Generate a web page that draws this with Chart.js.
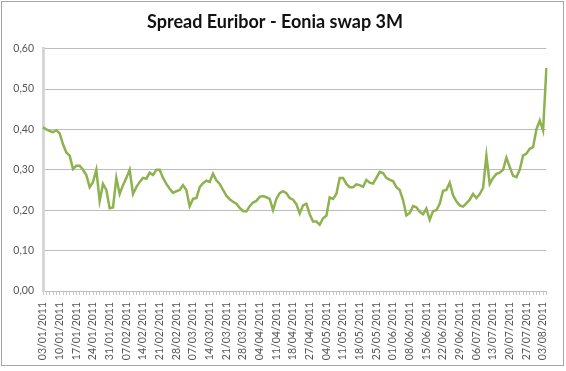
<!DOCTYPE html>
<html>
<head>
<meta charset="utf-8">
<script src="https://cdn.jsdelivr.net/npm/chart.js@4.4.1/dist/chart.umd.min.js"></script>
<style>
  html, body { margin: 0; padding: 0; background: #fff; }
  #wrap { position: relative; width: 566px; height: 371px; }
  #frame { position: absolute; left: 1px; top: 1px; width: 563px; height: 365px;
           border: 1px solid #a6a6a6; box-sizing: border-box; pointer-events: none; }
  canvas { display: block; }
</style>
</head>
<body>
<div id="wrap">
  <canvas id="myChart" width="566" height="371"></canvas>
  <div id="frame"></div>
</div>
<script>
// business days, TARGET calendar
const dates = [
  '03/01/2011','04/01/2011','05/01/2011','06/01/2011','07/01/2011',
  '10/01/2011','11/01/2011','12/01/2011','13/01/2011','14/01/2011',
  '17/01/2011','18/01/2011','19/01/2011','20/01/2011','21/01/2011',
  '24/01/2011','25/01/2011','26/01/2011','27/01/2011','28/01/2011',
  '31/01/2011','01/02/2011','02/02/2011','03/02/2011','04/02/2011',
  '07/02/2011','08/02/2011','09/02/2011','10/02/2011','11/02/2011',
  '14/02/2011','15/02/2011','16/02/2011','17/02/2011','18/02/2011',
  '21/02/2011','22/02/2011','23/02/2011','24/02/2011','25/02/2011',
  '28/02/2011','01/03/2011','02/03/2011','03/03/2011','04/03/2011',
  '07/03/2011','08/03/2011','09/03/2011','10/03/2011','11/03/2011',
  '14/03/2011','15/03/2011','16/03/2011','17/03/2011','18/03/2011',
  '21/03/2011','22/03/2011','23/03/2011','24/03/2011','25/03/2011',
  '28/03/2011','29/03/2011','30/03/2011','31/03/2011','01/04/2011',
  '04/04/2011','05/04/2011','06/04/2011','07/04/2011','08/04/2011',
  '11/04/2011','12/04/2011','13/04/2011','14/04/2011','15/04/2011',
  '18/04/2011','19/04/2011','20/04/2011','21/04/2011','26/04/2011',
  '27/04/2011','28/04/2011','29/04/2011','02/05/2011','03/05/2011',
  '04/05/2011','05/05/2011','06/05/2011','09/05/2011','10/05/2011',
  '11/05/2011','12/05/2011','13/05/2011','16/05/2011','17/05/2011',
  '18/05/2011','19/05/2011','20/05/2011','23/05/2011','24/05/2011',
  '25/05/2011','26/05/2011','27/05/2011','30/05/2011','31/05/2011',
  '01/06/2011','02/06/2011','03/06/2011','06/06/2011','07/06/2011',
  '08/06/2011','09/06/2011','10/06/2011','13/06/2011','14/06/2011',
  '15/06/2011','16/06/2011','17/06/2011','20/06/2011','21/06/2011',
  '22/06/2011','23/06/2011','24/06/2011','27/06/2011','28/06/2011',
  '29/06/2011','30/06/2011','01/07/2011','04/07/2011','05/07/2011',
  '06/07/2011','07/07/2011','08/07/2011','11/07/2011','12/07/2011',
  '13/07/2011','14/07/2011','15/07/2011','18/07/2011','19/07/2011',
  '20/07/2011','21/07/2011','22/07/2011','25/07/2011','26/07/2011',
  '27/07/2011','28/07/2011','29/07/2011','01/08/2011','02/08/2011',
  '03/08/2011','04/08/2011'
];

const spread = [
  0.405, 0.400, 0.396, 0.393, 0.398,
  0.390, 0.363, 0.343, 0.335, 0.302,
  0.310, 0.310, 0.300, 0.287, 0.257,
  0.270, 0.300, 0.223, 0.265, 0.250,
  0.205, 0.207, 0.280, 0.240, 0.262,
  0.280, 0.300, 0.240, 0.257, 0.270,
  0.280, 0.278, 0.293, 0.287, 0.300,
  0.300, 0.280, 0.265, 0.253, 0.243,
  0.247, 0.250, 0.262, 0.250, 0.210,
  0.228, 0.230, 0.257, 0.267, 0.273,
  0.270, 0.290, 0.274, 0.265, 0.250,
  0.236, 0.227, 0.221, 0.216, 0.206,
  0.198, 0.197, 0.210, 0.219, 0.223,
  0.233, 0.235, 0.232, 0.228, 0.200,
  0.228, 0.242, 0.247, 0.242, 0.230,
  0.226, 0.215, 0.192, 0.212, 0.216,
  0.190, 0.172, 0.172, 0.164, 0.180,
  0.186, 0.232, 0.228, 0.240, 0.280,
  0.280, 0.265, 0.257, 0.257, 0.264,
  0.262, 0.258, 0.275, 0.268, 0.266,
  0.280, 0.295, 0.292, 0.280, 0.275,
  0.272, 0.257, 0.250, 0.225, 0.187,
  0.193, 0.210, 0.207, 0.196, 0.190,
  0.204, 0.176, 0.198, 0.200, 0.216,
  0.248, 0.250, 0.268, 0.237, 0.222,
  0.212, 0.209, 0.217, 0.226, 0.240,
  0.230, 0.240, 0.255, 0.335, 0.265,
  0.280, 0.290, 0.293, 0.300, 0.330,
  0.307, 0.285, 0.282, 0.300, 0.335,
  0.340, 0.352, 0.356, 0.400, 0.422,
  0.397, 0.552
];

const yLabels = ['0,00', '0,10', '0,20', '0,30', '0,40', '0,50', '0,60'];
const titleText = 'Spread Euribor - Eonia swap 3M';

const fontName = 'Lato, "Liberation Sans", sans-serif';

const config = {
  type: 'line',
  data: {
    labels: dates,
    datasets: [{
      label: titleText,
      data: spread,
      borderColor: '#8db24e',
      borderWidth: 2.5,
      pointRadius: 0,
      tension: 0,
      fill: false
    }]
  },
  options: {
    responsive: false,
    animation: false,
    layout: { padding: { left: 0, right: 16, top: 0, bottom: 0 } },
    plugins: {
      legend: { display: false },
      tooltip: { enabled: false },
      title: {
        display: true,
        text: titleText,
        color: '#111',
        font: { family: fontName, size: 18, weight: 'bold' },
        padding: { top: 11, bottom: 16 }
      }
    },
    scales: {
      x: {
        type: 'category',
        offset: false,
        afterFit: (scale) => { scale.height = 80; },
        grid: {
          drawOnChartArea: false,
          drawTicks: true,
          tickLength: 4,
          color: '#c8c8c8'
        },
        border: { color: '#bdbdbd', width: 1 },
        ticks: {
          autoSkip: false,
          minRotation: 90,
          maxRotation: 90,
          padding: 7,
          color: '#555',
          font: { family: fontName, size: 10.5 },
          callback: function (val, index) {
            return index % 5 === 0 ? dates[index] : '';
          }
        }
      },
      y: {
        min: 0,
        max: 0.6,
        afterFit: (scale) => { scale.width = 43; },
        grid: { color: '#bcbcbc', drawTicks: false, lineWidth: 1 },
        border: { color: '#d6d6d6', width: 3 },
        ticks: {
          stepSize: 0.1,
          padding: 9,
          color: '#555',
          font: { family: fontName, size: 10.5 },
          callback: function (val, index) {
            return yLabels[index];
          }
        }
      }
    }
  }
};

const myChart = new Chart(document.getElementById('myChart'), config);
</script>
</body>
</html>
